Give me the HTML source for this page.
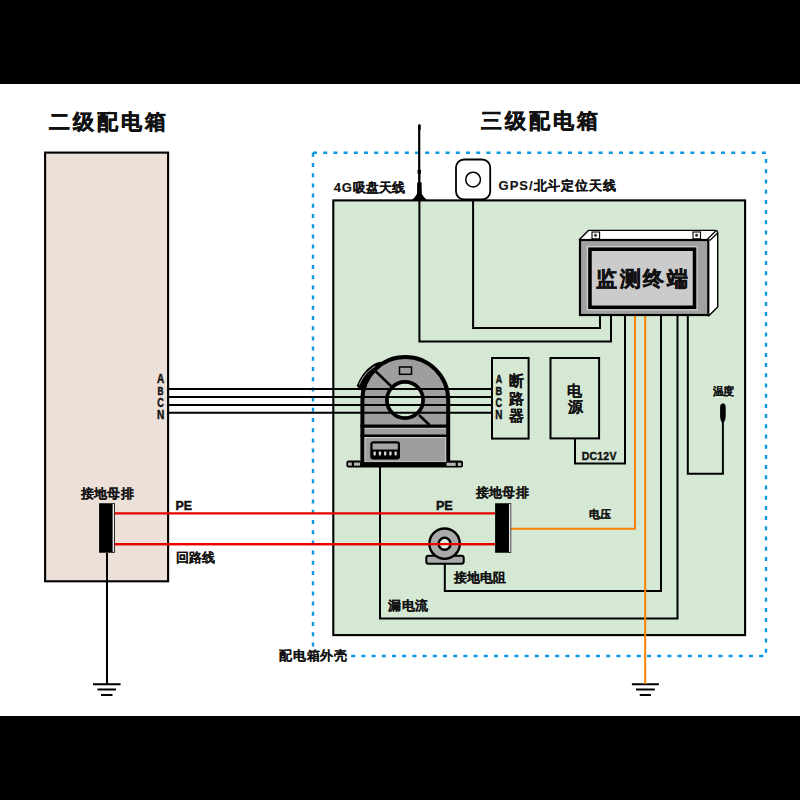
<!DOCTYPE html>
<html><head><meta charset="utf-8">
<style>
html,body{margin:0;padding:0;background:#fff;width:800px;height:800px;overflow:hidden}
svg{display:block}
text{font-family:"Liberation Sans",sans-serif;font-weight:bold;fill:#111}
</style></head><body>
<svg width="800" height="800" viewBox="0 0 800 800">
<rect x="0" y="0" width="800" height="800" fill="#fff"/>
<rect x="0" y="0" width="800" height="84" fill="#000"/>
<rect x="0" y="716" width="800" height="84" fill="#000"/>

<!-- titles -->

<!-- left box -->
<rect x="45.1" y="152.6" width="123" height="428.7" fill="#ede0d8" stroke="#000" stroke-width="2.1"/>

<!-- dashed enclosure -->
<g fill="none" stroke="#0b98e4" stroke-width="2.4" stroke-dasharray="4 6.2">
<path d="M313 152.8 H766"/>
<path d="M313 152.8 V647"/>
<path d="M766 159.1 V656"/>
<path d="M763.2 656 H350"/>
</g>

<!-- green box -->
<rect x="333.3" y="200.4" width="411.8" height="434.7" fill="#d5e8d4" stroke="#000" stroke-width="2.1"/>

<!-- labels -->

<!-- antenna -->
<path fill="#000" d="M418 125.6 Q418.2 124.3 419.4 124.3 Q420.7 124.3 420.8 125.6 L420.8 129.5 L420.3 130 L420.3 169.6 L421 170.2 L421 173.3 L420.5 173.9 L420.5 182.2 L421.6 182.6 L421.8 193.7 Q423.5 197.5 427.5 200.5 L411.5 200.5 Q415.3 197.5 417 193.7 L417.2 182.6 L418.1 182.2 L418.1 173.9 L417.5 173.3 L417.5 170.2 L418.1 169.6 L418.1 130 L418 129.5 Z"/>
<!-- GPS box -->
<rect x="456" y="159.5" width="34.2" height="40" rx="8" ry="8" fill="#fff" stroke="#000" stroke-width="1.8"/>
<circle cx="473.1" cy="179.6" r="7.4" fill="none" stroke="#000" stroke-width="1.5"/>

<!-- wires (black) -->
<g fill="none" stroke="#000" stroke-width="2">
<path d="M419.4 200 V341.6 H611 V316"/>
<path d="M473.1 200 V328 H600 V316"/>
<path d="M625 316 V463.6 H575 V439"/>
<path d="M661 316 V591 H444.8 V564"/>
<path d="M677.5 316 V618.4 H380 V466"/>
<path d="M687.8 316 V473.8 H722.9 V420"/>
<!-- left ground -->
<path d="M107 553 V684"/>
<path d="M93 684.2 H120.6 M97.5 689.6 H116 M101 694.9 H112.5"/>
<path d="M631.9 684.2 H658.9 M636 689.6 H654.8 M639.75 694.9 H650.9"/>
</g>
<!-- orange wires -->
<g fill="none" stroke="#fb8000" stroke-width="2">
<path d="M635 316 V528.7 H511"/>
<path d="M645.2 316 V684"/>
</g>

<!-- probe -->
<path d="M722.9 403.3 Q725.7 403.6 725.7 407.5 V416.5 Q725.5 420.5 723.9 422.3 H721.9 Q720.3 420.5 720.1 416.5 V407.5 Q720.1 403.6 722.9 403.3 Z" fill="#000"/>

<!-- breaker -->
<rect x="492" y="358" width="36.6" height="80.6" fill="none" stroke="#000" stroke-width="2"/>
<!-- power -->
<rect x="550.5" y="358" width="48.6" height="80.4" fill="none" stroke="#000" stroke-width="2"/>

<!-- CT body -->
<path d="M357.5 385.8 C359.5 381, 364 371.5, 372.5 365.8 Q376 363.3 380.5 362.6 L381 367 L373 372 L363.5 392 Z" fill="#000" stroke="#000" stroke-width="1.6" stroke-linejoin="round"/>
<path d="M359.3 384.6 C361.5 379.5, 365.5 372, 375 366.3" fill="none" stroke="#c8c8c8" stroke-width="0.9"/>

<path d="M362.4 464 V400 A42.9 42.9 0 0 1 448.2 400 V464 Z" fill="#9d9f9d" stroke="#000" stroke-width="4"/>
<rect x="365" y="437.6" width="80.7" height="24.2" fill="none" stroke="#cfd1cf" stroke-width="0.9"/>
<path d="M365 428.4 H445.6 M365 426 H445.6" fill="none" stroke="#cfd1cf" stroke-width="0.8"/>
<path d="M360.5 426.2 H450" stroke="#000" stroke-width="3.2"/>
<path d="M360.5 435.8 H450" stroke="#000" stroke-width="2.5"/>
<path d="M375.6 371.25 L391 386 M419 415 L429.5 425" stroke="#000" stroke-width="2.5"/>
<rect x="399.5" y="367" width="12" height="7.3" fill="#9d9f9d" stroke="#000" stroke-width="1.5"/>
<circle cx="405" cy="400" r="18.1" fill="#d5e8d4" stroke="#000" stroke-width="3.75"/>
<!-- terminal block on CT -->
<rect x="370.3" y="441.3" width="29.7" height="18.2" rx="3" fill="#000"/>
<rect x="372.6" y="443.5" width="25.2" height="6" fill="#a5a7a5"/>
<g fill="#d8d8d8">
<rect x="373.5" y="451.5" width="2.3" height="4" rx="0.8"/>
<rect x="378.75" y="451.5" width="2.3" height="4" rx="0.8"/>
<rect x="384" y="451.5" width="2.3" height="4" rx="0.8"/>
<rect x="389.25" y="451.5" width="2.3" height="4" rx="0.8"/>
<rect x="394.5" y="451.5" width="2.3" height="4" rx="0.8"/>
</g>
<!-- base plate -->
<path d="M348.5 460.4 H360.5 V462.3 H450 V460.6 H461 Q463 460.6 463 462.6 V465.6 Q463 467.6 461 467.6 H348.5 Q346.4 467.6 346.4 465.6 V462.4 Q346.4 460.4 348.5 460.4 Z" fill="#000"/>
<g fill="#b4b6b4">
<rect x="348.1" y="462.5" width="3.7" height="3.2"/>
<rect x="354" y="462.5" width="6.1" height="3.2"/>
<rect x="446.5" y="462.7" width="9.2" height="3.2"/>
<rect x="457.8" y="462.7" width="3.4" height="3.2"/>
</g>

<!-- ABCN lines -->
<g fill="none" stroke="#000" stroke-width="2">
<path d="M169 389 H491 M169 397 H491 M169 405 H491 M169 412.8 H491"/>
</g>

<!-- terminal -->
<path d="M579.5 239.5 L588.4 230.4 H715.2 Q717.7 230.4 717.7 232.9 V307 L708.6 316 Z" fill="#fff" stroke="#000" stroke-width="1.4" stroke-linejoin="round"/>
<rect x="580" y="240" width="128.3" height="75" fill="#a0a2a0" stroke="#000" stroke-width="2.2"/>
<path d="M707.6 239 L715.7 231 M709.8 240.5 L717.4 233.2" fill="none" stroke="#000" stroke-width="1.2"/>
<rect x="587.3" y="246.7" width="109.8" height="63.2" fill="none" stroke="#d6d6d6" stroke-width="1"/>
<rect x="590" y="249.25" width="104.5" height="58" fill="#cbcbcb" stroke="#000" stroke-width="3.5"/>
<rect x="592" y="232" width="7.6" height="6.8" fill="#fff" stroke="#000" stroke-width="1.1"/>
<circle cx="595.5" cy="235.3" r="1.7" fill="#777"/>
<circle cx="595.5" cy="235.3" r="0.9" fill="#111"/>
<rect x="693" y="232" width="7.5" height="6.8" fill="#fff" stroke="#000" stroke-width="1.1"/>
<circle cx="696.6" cy="235.2" r="1.7" fill="#777"/>
<circle cx="696.6" cy="235.2" r="0.9" fill="#111"/>

<!-- busbars -->
<rect x="99.1" y="503.25" width="15.8" height="49.5" fill="#000"/>
<rect x="112.6" y="504.1" width="1.5" height="47.8" fill="#eee"/>
<rect x="495.1" y="503.25" width="16.1" height="49.5" fill="#000"/>
<rect x="509" y="504.1" width="1.5" height="47.8" fill="#eee"/>

<!-- red lines -->
<g fill="none" stroke="#e60000" stroke-width="2.2">
<path d="M114.9 513.3 H495.1 M114.9 544.2 H495.1"/>
</g>

<!-- earth resistor CT -->
<rect x="426.3" y="555.8" width="37.4" height="8" rx="2.2" fill="#a9aba9" stroke="#000" stroke-width="2"/>
<circle cx="444.6" cy="543.7" r="15.2" fill="#a9aba9" stroke="#000" stroke-width="2.4"/>
<circle cx="444.6" cy="543.8" r="6" fill="#e2efe2" stroke="#000" stroke-width="2.4"/>
<path d="M114.9 544.2 H495.1" stroke="#e60000" stroke-width="2.2"/>

<text x="48.70" y="128.65" font-size="21.00" stroke="#111" stroke-width="0.5" letter-spacing="2.97">二级配电箱</text>
<text x="481.15" y="128.35" font-size="21.00" stroke="#111" stroke-width="0.5" letter-spacing="2.91">三级配电箱</text>
<text x="333.87" y="191.88" font-size="13.00" stroke="#111" stroke-width="0.15"><tspan letter-spacing="0.65">4G</tspan><tspan letter-spacing="0.30">吸盘天线</tspan></text>
<text x="498.55" y="189.55" font-size="13.00" stroke="#111" stroke-width="0.15"><tspan letter-spacing="1.01">GPS/</tspan><tspan letter-spacing="0.80">北斗定位天线</tspan></text>
<text x="279.27" y="660.27" font-size="13.00" stroke="#111" stroke-width="0.05" letter-spacing="0.63">配电箱外壳</text>
<text x="712.70" y="394.95" font-size="11.00" stroke="#111" stroke-width="0.05" letter-spacing="-1.13">温度</text>
<text x="589.44" y="517.89" font-size="11.00" stroke="#111" stroke-width="0.05" letter-spacing="-0.31">电压</text>
<text transform="translate(581.63 459.65) scale(0.888 1)" font-size="11.80" stroke="#111" stroke-width="0.45" letter-spacing="0.30">DC12V</text>
<text x="596.40" y="285.76" font-size="21.00" stroke="#111" stroke-width="0.5" letter-spacing="2.50">监测终端</text>
<text x="80.86" y="498.10" font-size="13.00" stroke="#111" stroke-width="0.05" letter-spacing="0.26">接地母排</text>
<text transform="translate(175.56 509.50) scale(1.014 1)" font-size="12.22" stroke="#111" stroke-width="0.45">PE</text>
<text x="176.40" y="562.35" font-size="13.00" stroke="#111" stroke-width="0.05" letter-spacing="0.04">回路线</text>
<text transform="translate(435.94 509.50) scale(1.029 1)" font-size="12.29" stroke="#111" stroke-width="0.45">PE</text>
<text x="475.66" y="497.22" font-size="13.00" stroke="#111" stroke-width="0.05" letter-spacing="0.38">接地母排</text>
<text x="453.86" y="582.20" font-size="13.00" stroke="#111" stroke-width="0.05" letter-spacing="0.21">接地电阻</text>
<text x="388.14" y="609.97" font-size="13.00" stroke="#111" stroke-width="0.05" letter-spacing="0.63">漏电流</text>
<text transform="translate(156.90 383.33) scale(0.839 1)" font-size="11.87" stroke="#111" stroke-width="0.45">A</text>
<text transform="translate(157.42 395.35) scale(0.720 1)" font-size="11.49" stroke="#111" stroke-width="0.45">B</text>
<text transform="translate(157.34 407.40) scale(0.709 1)" font-size="12.73" stroke="#111" stroke-width="0.45">C</text>
<text transform="translate(157.11 419.13) scale(0.849 1)" font-size="11.87" stroke="#111" stroke-width="0.45">N</text>
<text transform="translate(495.63 383.33) scale(0.770 1)" font-size="11.55" stroke="#111" stroke-width="0.45">A</text>
<text transform="translate(495.52 395.18) scale(0.816 1)" font-size="11.26" stroke="#111" stroke-width="0.45">B</text>
<text transform="translate(495.60 407.20) scale(0.762 1)" font-size="11.94" stroke="#111" stroke-width="0.45">C</text>
<text transform="translate(495.17 419.04) scale(0.824 1)" font-size="12.03" stroke="#111" stroke-width="0.45">N</text>
<text x="508.59" y="385.86" font-size="15.00" stroke="#111" stroke-width="0.05">断</text>
<text x="508.70" y="403.68" font-size="15.00" stroke="#111" stroke-width="0.05">路</text>
<text x="508.52" y="421.46" font-size="15.00" stroke="#111" stroke-width="0.05">器</text>
<text x="567.00" y="395.60" font-size="15.00" stroke="#111" stroke-width="0.05">电</text>
<text x="567.67" y="412.26" font-size="15.00" stroke="#111" stroke-width="0.05">源</text>
</svg>
</body></html>
